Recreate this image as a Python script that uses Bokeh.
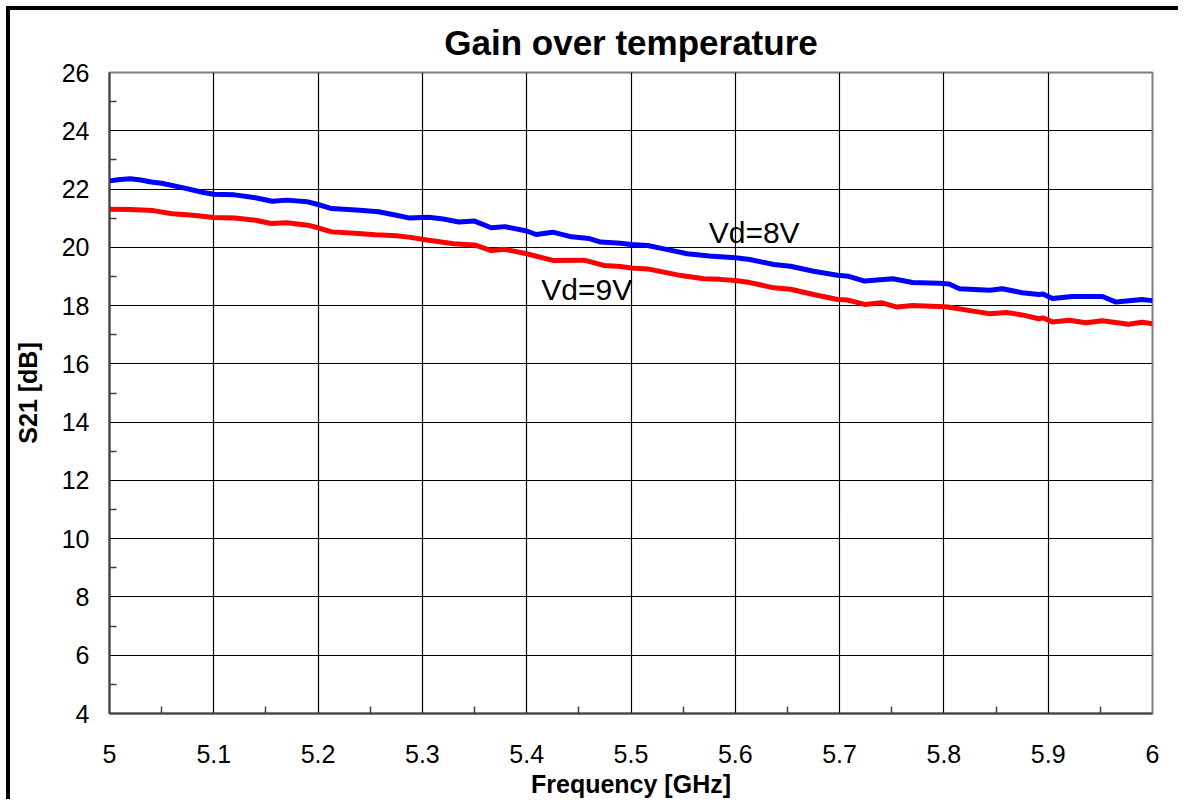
from bokeh.plotting import figure
from bokeh.models import FixedTicker, CustomJSTickFormatter
from bokeh.core.properties import value
from bokeh.embed import file_html
from bokeh.resources import INLINE

title = "Gain over temperature"
x_label = "Frequency [GHz]"
y_label = "S21 [dB]"

x_ticks = [5.0, 5.1, 5.2, 5.3, 5.4, 5.5, 5.6, 5.7, 5.8, 5.9, 6.0]
y_ticks = [4, 6, 8, 10, 12, 14, 16, 18, 20, 22, 24, 26]

freq_8v = [5.00, 5.01, 5.02, 5.03, 5.04, 5.05, 5.07, 5.09, 5.10, 5.12, 5.14, 5.156, 5.17, 5.19,
           5.20, 5.213, 5.24, 5.258, 5.275, 5.287, 5.306, 5.32, 5.335, 5.35, 5.366, 5.379, 5.40,
           5.409, 5.425, 5.443, 5.46, 5.471, 5.49, 5.50, 5.516, 5.535, 5.554, 5.575, 5.60, 5.614,
           5.637, 5.653, 5.675, 5.698, 5.708, 5.724, 5.751, 5.77, 5.795, 5.805, 5.815, 5.844,
           5.856, 5.875, 5.891, 5.895, 5.904, 5.923, 5.952, 5.965, 5.99, 6.00]
s21_8v = [22.28, 22.33, 22.35, 22.31, 22.24, 22.20, 22.05, 21.88, 21.82, 21.80, 21.70, 21.58, 21.62,
          21.56, 21.47, 21.33, 21.27, 21.22, 21.10, 21.01, 21.03, 20.97, 20.87, 20.90, 20.67, 20.71,
          20.56, 20.44, 20.52, 20.36, 20.30, 20.18, 20.14, 20.10, 20.06, 19.92, 19.78, 19.70, 19.64,
          19.58, 19.41, 19.35, 19.18, 19.04, 19.01, 18.84, 18.92, 18.79, 18.77, 18.74, 18.58, 18.53,
          18.58, 18.44, 18.38, 18.40, 18.24, 18.31, 18.31, 18.12, 18.21, 18.17]

freq_9v = [5.00, 5.02, 5.042, 5.06, 5.08, 5.10, 5.12, 5.14, 5.155, 5.17, 5.19, 5.20, 5.213, 5.235,
           5.255, 5.275, 5.287, 5.306, 5.33, 5.35, 5.366, 5.379, 5.40, 5.425, 5.455, 5.474, 5.49,
           5.50, 5.516, 5.548, 5.57, 5.585, 5.60, 5.614, 5.637, 5.653, 5.675, 5.698, 5.708, 5.724,
           5.74, 5.755, 5.77, 5.80, 5.804, 5.828, 5.844, 5.86, 5.875, 5.891, 5.895, 5.904, 5.92,
           5.936, 5.952, 5.977, 5.99, 6.00]
s21_9v = [21.31, 21.30, 21.26, 21.15, 21.10, 21.02, 21.01, 20.93, 20.82, 20.84, 20.76, 20.67, 20.53,
          20.48, 20.43, 20.40, 20.35, 20.24, 20.12, 20.08, 19.89, 19.93, 19.78, 19.55, 19.56, 19.38,
          19.34, 19.29, 19.26, 19.03, 18.92, 18.90, 18.86, 18.79, 18.61, 18.56, 18.38, 18.21, 18.19,
          18.04, 18.10, 17.95, 18.00, 17.96, 17.95, 17.81, 17.72, 17.76, 17.68, 17.55, 17.58, 17.44,
          17.50, 17.41, 17.48, 17.36, 17.43, 17.38]

label_text = ["Vd=8V", "Vd=9V"]
label_x = [5.5745, 5.414]
label_y = [20.52, 18.56]

FONT = "Liberation Sans"

p = figure(width=1172, height=793, x_range=(5, 6), y_range=(4, 26),
           output_backend="svg", toolbar_location=None,
           min_border_left=90, min_border_right=30, min_border_top=62, min_border_bottom=90,
           background_fill_color="white", border_fill_color="white")
p.styles = {"border-left": "4px solid black", "border-top": "4px solid black",
            "margin-left": "6px", "margin-top": "6px"}

p.title.text = title
p.title.align = "center"
p.title.text_font = FONT
p.title.text_font_size = "35px"
p.title.text_font_style = "bold"
p.title.text_color = "black"
p.title.standoff = 21

p.outline_line_color = "#808080"
p.outline_line_width = 2

p.line(freq_8v, s21_8v, line_color="#0000FF", line_width=5)
p.line(freq_9v, s21_9v, line_color="#FF0000", line_width=5)

p.text(x=label_x, y=label_y, text=label_text, text_font=value(FONT), text_font_size="30px",
       text_color="black", text_baseline="alphabetic", text_align="left")

p.xaxis.ticker = FixedTicker(ticks=x_ticks, minor_ticks=[5 + 0.05 * (2 * i + 1) for i in range(10)])
p.yaxis.ticker = FixedTicker(ticks=y_ticks, minor_ticks=[5, 7, 9, 11, 13, 15, 17, 19, 21, 23, 25])
p.xaxis.formatter = CustomJSTickFormatter(code="return tick.toFixed(1).replace(/\\.0$/, '');")

for ax in (p.xaxis[0], p.yaxis[0]):
    ax.axis_line_color = "#404040"
    ax.axis_line_width = 2
    ax.major_tick_in = 0
    ax.major_tick_out = 0
    ax.minor_tick_in = 7
    ax.minor_tick_out = 0
    ax.minor_tick_line_color = "#404040"
    ax.minor_tick_line_width = 1.5
    ax.major_label_text_font = FONT
    ax.major_label_text_font_size = "25px"
    ax.major_label_text_color = "black"
    ax.axis_label_text_font = FONT
    ax.axis_label_text_font_size = "25px"
    ax.axis_label_text_font_style = "bold"
    ax.axis_label_text_color = "black"

p.xaxis.axis_label = x_label
p.yaxis.axis_label = y_label
p.xaxis.major_label_standoff = 31
p.yaxis.major_label_standoff = 20
p.xaxis.axis_label_standoff = 4
p.yaxis.axis_label_standoff = 17

p.xgrid.ticker = FixedTicker(ticks=x_ticks)
p.ygrid.ticker = FixedTicker(ticks=y_ticks)
p.grid.grid_line_color = "black"
p.grid.grid_line_width = 1.2

open("out.html", "w").write(file_html(p, INLINE))
